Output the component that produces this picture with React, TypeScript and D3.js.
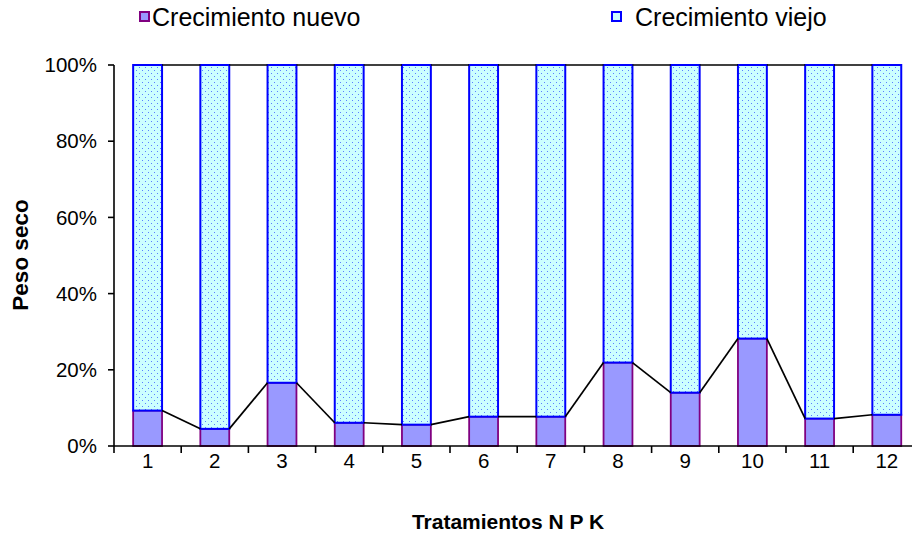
import React from "react";
import * as d3 from "d3";

const categories = ["1", "2", "3", "4", "5", "6", "7", "8", "9", "10", "11", "12"];
const nuevo = [9.3, 4.5, 16.6, 6.1, 5.6, 7.7, 7.7, 21.9, 14.0, 28.2, 7.2, 8.2];
const viejo = nuevo.map((v) => 100 - v);
const yTicks = [0, 20, 40, 60, 80, 100];
const seriesNames = ["Crecimiento nuevo", "Crecimiento viejo"];

const W = 912;
const H = 535;
const left = 114;
const step = 67.2;
const top = 65;
const bottom = 446;

export default function App() {
  const x = d3
    .scaleBand<string>()
    .domain(categories)
    .range([left, left + step * categories.length])
    .paddingInner(0.57)
    .paddingOuter(0.285);
  const y = d3.scaleLinear().domain([0, 100]).range([bottom, top]);
  const bw = x.bandwidth();
  const font = "'Liberation Sans', Arial, sans-serif";

  // connector lines between stacked segment tops
  const lines = (vals: number[]) =>
    vals.slice(0, -1).map((v, i) => ({
      x1: (x(categories[i]) as number) + bw,
      y1: y(v),
      x2: x(categories[i + 1]) as number,
      y2: y(vals[i + 1]),
    }));
  const cum = nuevo.map((v, i) => v + viejo[i]);

  return (
    <svg width={W} height={H} style={{ position: "absolute", left: 0, top: 0 }}>
      <defs>
        <pattern id="dots" width="6" height="6" patternUnits="userSpaceOnUse">
          <rect width="6" height="6" fill="#ccffff" />
          <rect x="1" y="1" width="1" height="1" fill="#5a80ff" />
          <rect x="4" y="4" width="1" height="1" fill="#5a80ff" />
        </pattern>
      </defs>
      <rect width={W} height={H} fill="#fff" />

      {/* bars */}
      {categories.map((c, i) => {
        const x0 = x(c) as number;
        return (
          <g key={c}>
            <rect
              x={x0}
              y={y(nuevo[i])}
              width={bw}
              height={y(0) - y(nuevo[i])}
              fill="#9999ff"
              stroke="#800080"
              strokeWidth={1.8}
            />
            <rect
              x={x0}
              y={y(cum[i])}
              width={bw}
              height={y(nuevo[i]) - y(cum[i])}
              fill="url(#dots)"
              stroke="#0000ff"
              strokeWidth={2}
            />
          </g>
        );
      })}

      {/* series lines */}
      {[...lines(nuevo), ...lines(cum)].map((l, i) => (
        <line key={i} {...l} stroke="#000" strokeWidth={1.7} />
      ))}

      {/* y axis */}
      <line x1={left} x2={left} y1={top} y2={bottom} stroke="#000" strokeWidth={1.6} />
      {yTicks.map((t) => (
        <g key={t}>
          <line x1={left - 6} x2={left} y1={y(t)} y2={y(t)} stroke="#000" strokeWidth={1.6} />
          <text
            x={97}
            y={y(t)}
            dy="0.35em"
            textAnchor="end"
            fontFamily={font}
            fontSize={20.5}
          >
            {t}%
          </text>
        </g>
      ))}

      {/* x axis */}
      <line x1={left} x2={W} y1={bottom} y2={bottom} stroke="#000" strokeWidth={1.6} />
      {d3.range(categories.length + 1).map((k) => (
        <line
          key={k}
          x1={left + k * step}
          x2={left + k * step}
          y1={bottom}
          y2={bottom + 7}
          stroke="#000"
          strokeWidth={1.6}
        />
      ))}
      {categories.map((c) => (
        <text
          key={c}
          x={(x(c) as number) + bw / 2}
          y={468}
          textAnchor="middle"
          fontFamily={font}
          fontSize={20.5}
        >
          {c}
        </text>
      ))}

      {/* titles */}
      <text
        x={508}
        y={529}
        textAnchor="middle"
        fontFamily={font}
        fontSize={21}
        fontWeight="bold"
      >
        Tratamientos N P K
      </text>
      <text
        transform="translate(28,255) rotate(-90)"
        textAnchor="middle"
        fontFamily={font}
        fontSize={22.5}
        fontWeight="bold"
      >
        Peso seco
      </text>

      {/* legend */}
      <rect x={140} y={12} width={9} height={9} fill="#9999ff" stroke="#800080" strokeWidth={2} />
      <text x={152} y={26} fontFamily={font} fontSize={25}>
        {seriesNames[0]}
      </text>
      <rect x={612} y={12} width={9} height={9} fill="#ccffff" stroke="#0000ff" strokeWidth={2} />
      <text x={635} y={26} fontFamily={font} fontSize={25}>
        {seriesNames[1]}
      </text>
    </svg>
  );
}
